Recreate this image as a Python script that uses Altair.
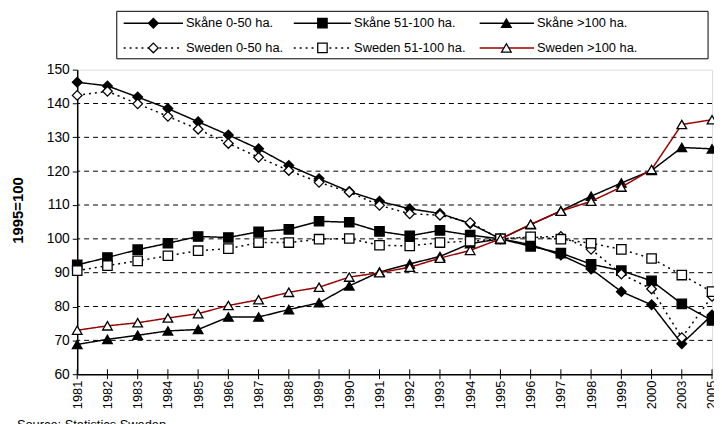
import altair as alt
import pandas as pd

years = [str(y) for y in range(1981, 2001)] + ["2003", "2005"]

skane_0_50 = [146.3, 145.2, 141.9, 138.5, 134.6, 130.7, 126.6, 121.7, 117.8, 114.0, 111.1,
              108.9, 107.5, 104.5, 100.0, 98.3, 95.2, 91.1, 84.4, 80.5, 69.0, 77.5]
skane_51_100 = [92.3, 94.5, 96.8, 98.7, 100.7, 100.4, 102.1, 102.8, 105.2, 104.9, 102.2,
                100.9, 102.5, 101.1, 100.0, 97.8, 95.8, 92.5, 90.6, 87.6, 80.8, 75.9]
skane_100 = [68.8, 70.3, 71.5, 72.8, 73.2, 76.9, 76.9, 79.1, 81.1, 86.1, 90.2,
             92.6, 94.8, 98.6, 100.0, 104.2, 108.3, 112.6, 116.5, 120.2, 127.0, 126.6]
sweden_0_50 = [142.4, 143.6, 139.9, 136.2, 132.4, 128.2, 124.1, 120.2, 116.7, 113.8, 109.9,
               107.4, 107.0, 104.8, 100.0, 100.5, 100.7, 96.9, 89.6, 85.2, 70.8, 83.0]
sweden_51_100 = [90.6, 92.1, 93.5, 95.0, 96.5, 97.1, 98.9, 98.9, 99.9, 100.1, 98.1,
                 97.9, 98.9, 99.3, 100.0, 100.6, 99.9, 98.7, 96.9, 94.2, 89.3, 84.4]
sweden_100 = [73.0, 74.3, 75.2, 76.6, 77.9, 80.3, 82.0, 84.2, 85.7, 88.7, 90.0,
              91.6, 94.3, 96.6, 100.0, 104.3, 108.2, 111.1, 115.3, 120.5, 133.8, 135.2]

series_names = ["Skåne 0-50 ha.", "Skåne 51-100 ha.", "Skåne >100 ha.",
                "Sweden 0-50 ha.", "Sweden 51-100 ha.", "Sweden >100 ha."]
series_values = [skane_0_50, skane_51_100, skane_100, sweden_0_50, sweden_51_100, sweden_100]
grid_values = [70, 80, 90, 100, 110, 120, 130, 140]
y_ticks = [60, 70, 80, 90, 100, 110, 120, 130, 140, 150]

# styles: (line color, dash, shape, fill)
styles = [
    ("black", [1, 0], "diamond", "black"),
    ("black", [1, 0], "square", "black"),
    ("black", [1, 0], "triangle-up", "black"),
    ("black", [2, 4], "diamond", "white"),
    ("black", [2, 4], "square", "white"),
    ("#990000", [1, 0], "triangle-up", "white"),
]
sizes = {"diamond": 95, "square": 90, "triangle-up": 95}

W, H = 642, 308
FONT = "Liberation Sans"

xscale = alt.Scale(type="point", domain=years, padding=0)
yscale = alt.Scale(domain=[60, 150], nice=False, zero=False)

x_axis = alt.Axis(title=None, labelAngle=270, ticks=False, labelFontSize=13,
                  labelPadding=6, labelFont=FONT, labelColor="black",
                  domainColor="black", domainWidth=1.5, labelOverlap=False, grid=False)
y_axis = alt.Axis(values=y_ticks, title="1995=100", titleFontSize=15,
                  titleFontWeight="bold", titleFont=FONT, titleColor="black",
                  titleX=-52, titleY=142, titleAngle=270,
                  labelFontSize=14, labelFont=FONT, labelColor="black",
                  tickColor="black", tickSize=5, labelPadding=3,
                  domainColor="black", domainWidth=1.5, grid=False)

x_enc = alt.X("year:N", scale=xscale, sort=years, axis=x_axis)
y_enc = alt.Y("value:Q", scale=yscale, axis=y_axis)

one = pd.DataFrame({"a": [0]})

layers = []
grid = alt.Chart(pd.DataFrame({"value": grid_values})).mark_rule(
    color="black", strokeDash=[5, 4], strokeWidth=1).encode(y=y_enc)
layers.append(grid)

ticks = alt.Chart(pd.DataFrame({"year": years})).mark_rule(color="black", strokeWidth=1).encode(
    x=x_enc, y=alt.value(H - 5), y2=alt.value(H + 5))
layers.append(ticks)

for name, vals, (col, dash, shape, fill) in zip(series_names, series_values, styles):
    df = pd.DataFrame({"year": years, "value": vals, "series": name})
    base = alt.Chart(df)
    line = base.mark_line(color=col, strokeDash=dash, strokeWidth=1.5).encode(x=x_enc, y=y_enc)
    pts = base.mark_point(shape=shape, filled=True, fill=fill, stroke="black", strokeWidth=1.3,
                          opacity=1, size=sizes[shape]).encode(x=x_enc, y=y_enc)
    layers += [line, pts]

# legend box
layers.append(alt.Chart(one).mark_rect(fill="white", stroke="black", strokeWidth=1).encode(
    x=alt.value(40), x2=alt.value(638), y=alt.value(-59), y2=alt.value(-11)))
cols = [(47, 107, 77, 110), (219, 277, 248, 280), (407, 462, 434, 465)]
rows = [-47, -22]
for i, (name, (col, dash, shape, fill)) in enumerate(zip(series_names, styles)):
    r = rows[i // 3]
    x1, x2, xm, xt = cols[i % 3]
    layers.append(alt.Chart(one).mark_rule(color=col, strokeDash=dash, strokeWidth=1.5).encode(
        x=alt.value(x1), x2=alt.value(x2), y=alt.value(r)))
    layers.append(alt.Chart(one).mark_point(shape=shape, filled=True, fill=fill, stroke="black",
                                            strokeWidth=1.3, opacity=1, size=sizes[shape]).encode(
        x=alt.value(xm), y=alt.value(r)))
    layers.append(alt.Chart(one).mark_text(text=name, align="left", baseline="middle",
                                           font=FONT, fontSize=13, color="black").encode(
        x=alt.value(xt), y=alt.value(r)))

layers.append(alt.Chart(one).mark_text(text="Source: Statistics Sweden", align="left",
                                       baseline="top", font=FONT, fontSize=13,
                                       color="black").encode(
    x=alt.value(-61), y=alt.value(353)))

chart = alt.layer(*layers).properties(
    width=W, height=H,
    autosize=alt.AutoSizeParams(type="none"),
    padding={"left": 70, "top": 60, "right": 2, "bottom": 48},
).configure_view(stroke="#808080", strokeWidth=1).configure(background="white")

chart.save("out.html", embed_options={"renderer": "svg", "actions": False})
